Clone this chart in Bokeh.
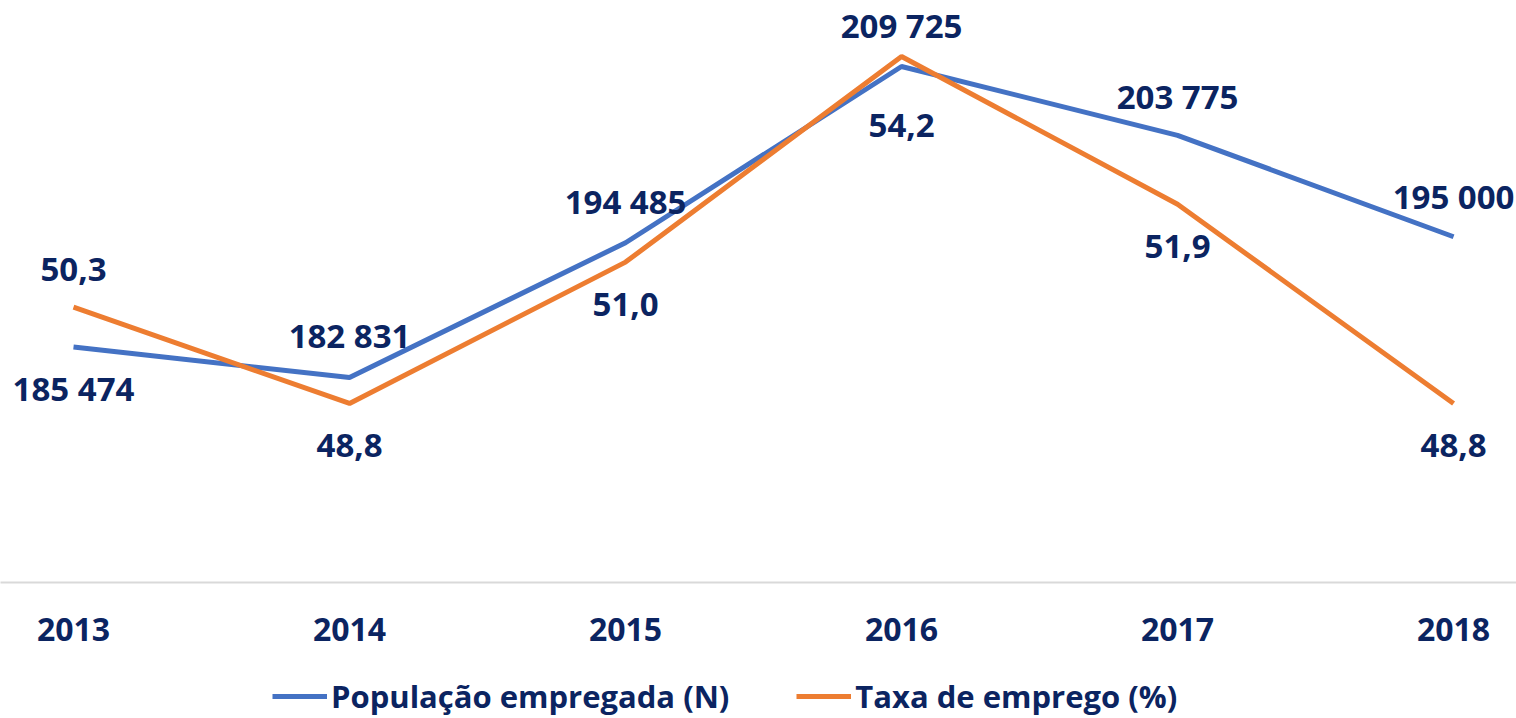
from bokeh.plotting import figure
from bokeh.layouts import column
from bokeh.models import Range1d, ColumnDataSource, Legend, LegendItem, FixedTicker, CustomJSTickFormatter
from bokeh.core.properties import value
from bokeh.embed import file_html
from bokeh.resources import INLINE

years = ["2013", "2014", "2015", "2016", "2017", "2018"]
populacao = [185474, 182831, 194485, 209725, 203775, 195000]
taxa = [50.3, 48.8, 51.0, 54.2, 51.9, 48.8]
populacao_labels = ["185 474", "182 831", "194 485", "209 725", "203 775", "195 000"]
taxa_labels = ["50,3", "48,8", "51,0", "54,2", "51,9", "48,8"]
series_names = ["População empregada (N)", "Taxa de emprego (%)"]

# label offsets in screen pixels (positive = down)
pop_off = [42, -42, -41, -41, -39, -40]
taxa_off = [-38, 42, 42, 69, 42, 42]

NAVY = "#0b2461"
BLUE = "#4472C4"
ORANGE = "#ED7D31"
FONT = "Open Sans"

xs = list(range(len(years)))

W = 1516
p = figure(width=W, height=660, output_backend="svg", toolbar_location=None,
           x_range=Range1d(-0.2645, 5.228), y_range=Range1d(165104, 215432),
           min_border_top=0, min_border_left=0, min_border_right=0, min_border_bottom=78)
p.extra_y_ranges = {"taxa": Range1d(46.014, 55.071)}
p.outline_line_color = None
p.grid.visible = False
p.yaxis.visible = False

ax = p.xaxis[0]
ax.ticker = FixedTicker(ticks=xs)
ax.formatter = CustomJSTickFormatter(args=dict(labels=years), code="return labels[Math.round(tick)] || '';")
ax.axis_line_color = "#d9d9d9"
ax.axis_line_width = 2
ax.major_tick_line_color = None
ax.minor_tick_line_color = None
ax.major_label_text_font = FONT
ax.major_label_text_font_style = "bold"
ax.major_label_text_font_size = "32px"
ax.major_label_text_color = NAVY
ax.major_label_standoff = 29

p.line(xs, populacao, line_color=BLUE, line_width=5)
p.line(xs, taxa, line_color=ORANGE, line_width=5, y_range_name="taxa")

src1 = ColumnDataSource(dict(x=xs, y=populacao, t=populacao_labels, off=pop_off))
p.text(x="x", y="y", text="t", y_offset="off", source=src1, text_align="center",
       text_baseline="middle", text_font=value(FONT), text_font_style="bold",
       text_font_size="33px", text_color=NAVY)
src2 = ColumnDataSource(dict(x=xs, y=taxa, t=taxa_labels, off=taxa_off))
p.text(x="x", y="y", text="t", y_offset="off", source=src2, text_align="center",
       text_baseline="middle", text_font=value(FONT), text_font_style="bold",
       text_font_size="33px", text_color=NAVY, y_range_name="taxa")

# legend figure (its line renderers only provide legend swatches, drawn out of view)
lg = figure(width=W, height=58, output_backend="svg", toolbar_location=None,
            x_range=Range1d(0, 1), y_range=Range1d(0, 1),
            min_border=0, outline_line_color=None)
lg.axis.visible = False
lg.grid.visible = False
d1 = lg.line([-5, -4], [-5, -4], line_color=BLUE, line_width=5)
d2 = lg.line([-5, -4], [-5, -4], line_color=ORANGE, line_width=5)
legend = Legend(items=[LegendItem(label=series_names[0], renderers=[d1]),
                       LegendItem(label=series_names[1], renderers=[d2])],
                orientation="horizontal", location=(272, 1),
                label_text_font=FONT, label_text_font_style="bold",
                label_text_font_size="31px", label_text_color=NAVY,
                glyph_width=55, label_standoff=4, spacing=67,
                border_line_color=None, background_fill_alpha=0,
                margin=0, padding=0)
lg.add_layout(legend, "center")

layout = column(p, lg, spacing=0)
open("out.html", "w").write(file_html(layout, INLINE))
